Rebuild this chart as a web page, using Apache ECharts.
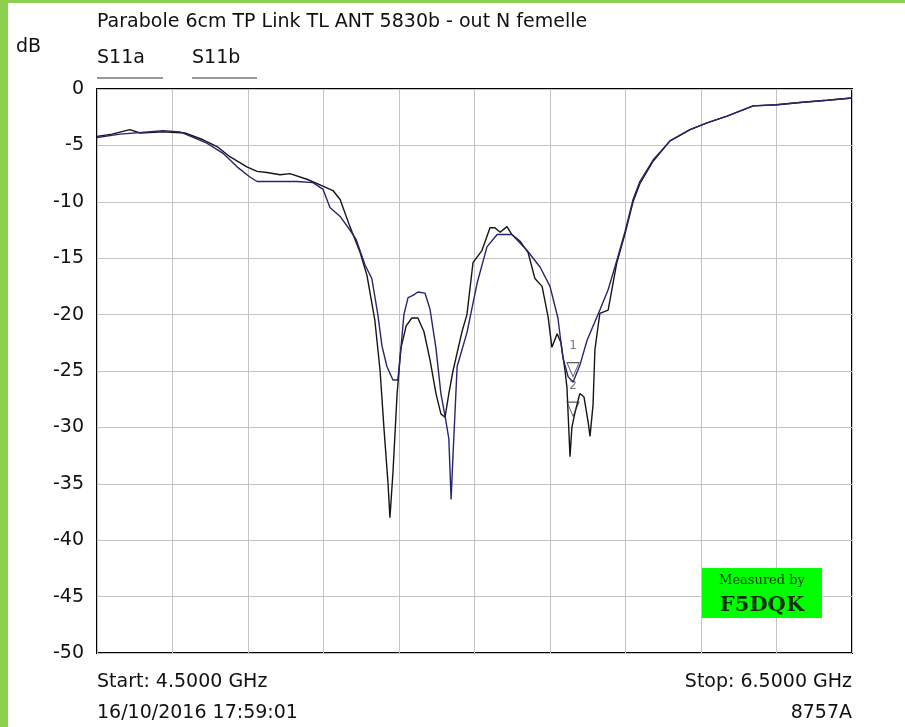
<!DOCTYPE html>
<html>
<head>
<meta charset="utf-8">
<script src="https://cdn.jsdelivr.net/npm/echarts@6/dist/echarts.min.js"></script>
<style>
  html, body { margin: 0; padding: 0; background: #fff; }
  #container { width: 905px; height: 727px; }
</style>
</head>
<body>
<div id="container"></div>
<script>
// S11 mesure, frequence en GHz, niveau en dB
var freqA = [4.500,4.540,4.587,4.614,4.675,4.733,4.781,4.818,4.852,4.897,4.924,4.950,4.985,5.011,5.056,5.091,5.125,5.144,5.170,5.197,5.215,5.236,5.250,5.260,5.271,5.276,5.284,5.295,5.305,5.319,5.334,5.350,5.366,5.382,5.398,5.411,5.422,5.432,5.443,5.454,5.467,5.480,5.496,5.520,5.541,5.554,5.568,5.586,5.599,5.621,5.642,5.660,5.679,5.695,5.705,5.719,5.729,5.740,5.745,5.753,5.758,5.766,5.779,5.790,5.801,5.806,5.814,5.819,5.832,5.854,5.877,5.899,5.920,5.938,5.973,6.018,6.071,6.116,6.169,6.238,6.301,6.362,6.434,6.500];
var s11a = [-4.2,-4.0,-3.6,-3.9,-3.8,-3.9,-4.5,-5.1,-6.0,-6.9,-7.3,-7.4,-7.6,-7.5,-8.0,-8.5,-9.0,-9.8,-12.2,-14.5,-16.5,-20.5,-25,-30,-35,-38.0,-34,-27,-23,-21,-20.3,-20.3,-21.5,-24,-27,-28.8,-29.1,-27,-25,-23.4,-21.5,-20,-15.4,-14.3,-12.3,-12.3,-12.7,-12.2,-12.9,-13.5,-14.5,-16.8,-17.5,-20.2,-22.9,-21.7,-22.5,-25,-26.5,-32.6,-30,-28.7,-27,-27.3,-29.5,-30.8,-28,-23.1,-19.9,-19.6,-15.4,-12.8,-10.0,-8.4,-6.4,-4.6,-3.6,-3.0,-2.4,-1.5,-1.4,-1.2,-1.0,-0.8];

var freqB = [4.500,4.561,4.675,4.720,4.791,4.834,4.871,4.905,4.924,5.030,5.072,5.099,5.117,5.144,5.170,5.186,5.210,5.228,5.244,5.255,5.268,5.284,5.297,5.305,5.313,5.324,5.337,5.350,5.369,5.382,5.398,5.411,5.422,5.432,5.438,5.443,5.454,5.480,5.507,5.533,5.560,5.599,5.639,5.674,5.700,5.721,5.734,5.748,5.761,5.779,5.798,5.832,5.854,5.877,5.899,5.920,5.938,5.973,6.018,6.071,6.116,6.169,6.238,6.301,6.362,6.434,6.500];
var s11b = [-4.3,-4.0,-3.7,-3.8,-4.8,-5.7,-6.9,-7.8,-8.2,-8.2,-8.3,-8.9,-10.5,-11.3,-12.5,-13.3,-15.6,-16.8,-20,-22.8,-24.6,-25.8,-25.8,-23,-20,-18.5,-18.3,-18,-18.1,-19.5,-23,-27,-29,-31,-36.4,-32.5,-24.6,-21.6,-17.2,-14,-12.9,-12.9,-14.3,-15.8,-17.5,-20.3,-23.8,-25.5,-26,-24.5,-22.3,-19.6,-17.8,-15.2,-12.6,-9.8,-8.2,-6.3,-4.6,-3.6,-3.0,-2.4,-1.5,-1.4,-1.2,-1.0,-0.8];

// marqueurs
var markerNames = ['1', '2'];
var markerFreq = [5.761, 5.761];
var markerDb = [-25.5, -29.0];

var dom = document.getElementById('container');
var myChart = echarts.init(dom);

var zip = function (xs, ys) {
    var res = [];
    for (var i = 0; i < xs.length; i++) {
        res.push([xs[i], ys[i]]);
    }
    return res;
};

var font = 'DejaVu Sans';
var txt = '19px "' + font + '"';

var option = {
    backgroundColor: '#fff',
    animation: false,
    grid: {
        left: 97, top: 89, width: 755, height: 564,
        show: true, borderColor: '#000', borderWidth: 2,
        backgroundColor: 'transparent'
    },
    xAxis: {
        type: 'value', min: 4.5, max: 6.5, interval: 0.2,
        axisLine: { show: false }, axisTick: { show: false },
        axisLabel: { show: false },
        splitLine: { lineStyle: { color: '#c4c4c4', width: 1 } }
    },
    yAxis: {
        type: 'value', min: -50, max: 0, interval: 5,
        axisLine: { show: false }, axisTick: { show: false },
        axisLabel: { color: '#111', fontSize: 19, fontFamily: font, margin: 13 },
        splitLine: { lineStyle: { color: '#c4c4c4', width: 1 } }
    },
    series: [
        {
            name: 'S11a', type: 'line', data: zip(freqA, s11a),
            showSymbol: false, smooth: false,
            lineStyle: { color: '#151515', width: 1.4 }
        },
        {
            name: 'S11b', type: 'line', data: zip(freqB, s11b),
            showSymbol: false, smooth: false,
            lineStyle: { color: '#26266e', width: 1.4 }
        },
        {
            name: 'markers', type: 'scatter', data: zip(markerFreq, markerDb),
            symbol: 'triangle', symbolRotate: 180, symbolSize: [12, 14],
            symbolOffset: [0, -7],
            itemStyle: { color: 'rgba(0,0,0,0)', borderColor: '#333', borderWidth: 1 },
            label: {
                show: true, position: 'top', distance: 10,
                color: '#555', fontSize: 12, fontFamily: font,
                formatter: function (p) { return markerNames[p.dataIndex]; }
            },
            z: 5
        }
    ],
    graphic: [
        // cadre vert
        { type: 'rect', left: 0, top: 0, shape: { width: 8, height: 727 }, style: { fill: '#8ed04f' } },
        { type: 'rect', left: 0, top: 0, shape: { width: 905, height: 3 }, style: { fill: '#8ed04f' } },
        // textes
        { type: 'text', left: 97, top: 13, style: { text: 'Parabole 6cm TP Link TL ANT 5830b - out N femelle', font: txt, fill: '#111' } },
        { type: 'text', left: 16, top: 38, style: { text: 'dB', font: txt, fill: '#111' } },
        { type: 'text', left: 97, top: 49, style: { text: 'S11a', font: txt, fill: '#111' } },
        { type: 'line', shape: { x1: 97, y1: 78, x2: 163, y2: 78 }, style: { stroke: '#333', lineWidth: 1 } },
        { type: 'text', left: 192, top: 49, style: { text: 'S11b', font: txt, fill: '#111' } },
        { type: 'line', shape: { x1: 192, y1: 78, x2: 257, y2: 78 }, style: { stroke: '#333', lineWidth: 1 } },
        { type: 'text', left: 97, top: 673, style: { text: 'Start: 4.5000 GHz', font: txt, fill: '#111' } },
        { type: 'text', right: 53, top: 673, style: { text: 'Stop: 6.5000 GHz', font: txt, fill: '#111' } },
        { type: 'text', left: 97, top: 704, style: { text: '16/10/2016 17:59:01', font: txt, fill: '#111' } },
        { type: 'text', right: 53, top: 704, style: { text: '8757A', font: txt, fill: '#111' } },
        // logo
        { type: 'rect', left: 702, top: 568, shape: { width: 120, height: 50 }, style: { fill: '#00ff00' }, z: 10 },
        { type: 'text', x: 762, y: 581, z: 11, style: { text: 'Measured by', font: '13px "DejaVu Serif"', fill: '#0b3a0b', align: 'center', verticalAlign: 'middle' } },
        { type: 'text', x: 762, y: 606, z: 11, style: { text: 'F5DQK', font: 'bold 21px "DejaVu Serif"', fill: '#0b300b', align: 'center', verticalAlign: 'middle' } }
    ]
};

myChart.setOption(option);
</script>
</body>
</html>
